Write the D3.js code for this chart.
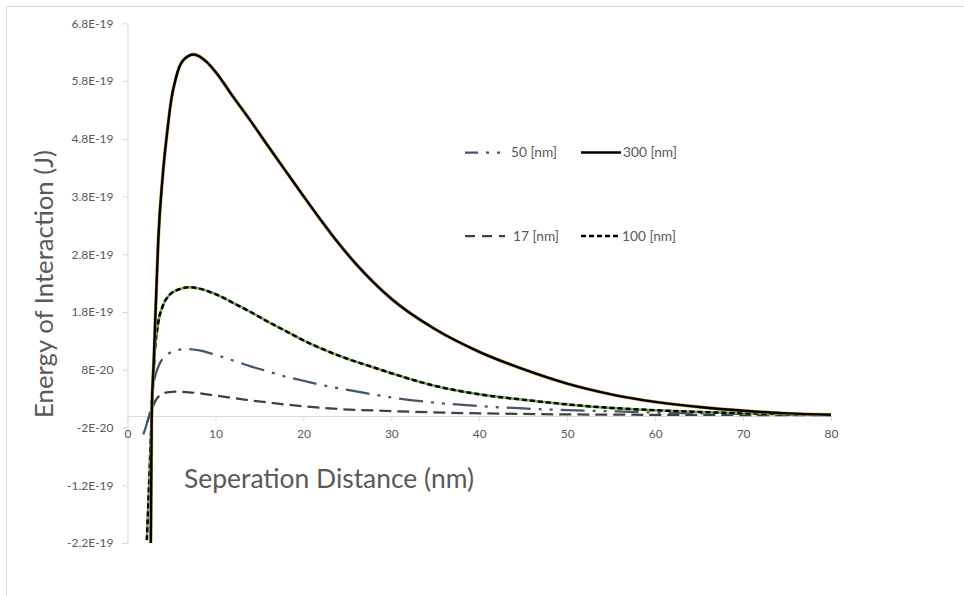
<!DOCTYPE html>
<html>
<head>
<meta charset="utf-8">
<script src="https://cdn.jsdelivr.net/npm/d3@7"></script>
<style>
  html, body { margin: 0; padding: 0; background: #fff; }
  svg { display: block; font-family: Lato, "Open Sans", sans-serif; }
</style>
</head>
<body>
<svg id="chart" width="964" height="596"></svg>
<script>
// ---- data (energies in units of 1E-19 J) ----
const xTicks = [0, 10, 20, 30, 40, 50, 60, 70, 80];
const yTicks = [-2.2, -1.2, -0.2, 0.8, 1.8, 2.8, 3.8, 4.8, 5.8, 6.8];
const yTickLabels = ["-2.2E-19", "-1.2E-19", "-2E-20", "8E-20", "1.8E-19", "2.8E-19", "3.8E-19", "4.8E-19", "5.8E-19", "6.8E-19"];

const seriesNames = ["50 [nm]", "300 [nm]", "17 [nm]", "100 [nm]"];

const dist50 = [1.8, 2.2, 2.6, 2.9, 3.5, 4.5, 5.5, 6.7, 8, 10, 12, 14, 16, 18, 20, 22, 25, 28, 30, 35, 40, 45, 50, 55, 60, 65, 70, 75, 80];
const energy50 = [-0.32, -0.13, 0.12, 0.5, 0.85, 1.06, 1.13, 1.16, 1.14, 1.06, 0.96, 0.86, 0.77, 0.68, 0.61, 0.54, 0.45, 0.37, 0.32, 0.23, 0.17, 0.13, 0.1, 0.08, 0.06, 0.045, 0.035, 0.025, 0.02];

const dist300 = [2.65, 2.75, 3, 3.25, 3.5, 4, 4.5, 5, 5.5, 6, 7, 7.5, 8, 9, 10, 12, 14, 16, 18, 20, 22, 24, 26, 28, 30, 35, 40, 45, 50, 55, 60, 65, 70, 75, 80];
const energy300 = [-2.2, 0.0, 1.0, 2.05, 3.05, 4.15, 4.9, 5.5, 5.85, 6.08, 6.24, 6.26, 6.24, 6.13, 5.96, 5.53, 5.11, 4.67, 4.24, 3.81, 3.39, 2.99, 2.63, 2.31, 2.03, 1.5, 1.11, 0.81, 0.56, 0.375, 0.245, 0.155, 0.09, 0.045, 0.02];

const dist17 = [2.2, 2.5, 2.8, 3.2, 3.7, 4.5, 5.6, 7, 9.75, 13.5, 17.3, 23, 30, 34.4, 45, 60, 80];
const energy17 = [-0.12, 0.0, 0.12, 0.27, 0.36, 0.41, 0.42, 0.41, 0.36, 0.28, 0.21, 0.13, 0.085, 0.064, 0.035, 0.02, 0.015];

const dist100 = [2.2, 2.45, 2.75, 3.1, 3.5, 4, 4.8, 6, 7, 8, 10, 12, 14, 16, 18, 20, 22, 25, 28, 30, 35, 40, 45, 50, 55, 60, 65, 70, 75, 80];
const energy100 = [-2.15, -1.2, 0.0, 1.09, 1.62, 1.9, 2.1, 2.2, 2.23, 2.21, 2.11, 1.96, 1.8, 1.63, 1.47, 1.31, 1.17, 0.99, 0.84, 0.74, 0.52, 0.375, 0.28, 0.2, 0.14, 0.1, 0.07, 0.048, 0.03, 0.017];

// ---- layout ----
const svg = d3.select("#chart");
const plotLeft = 127.5, plotRight = 831, plotTop = 23.3, plotBottom = 543;
const x = d3.scaleLinear().domain([0, 80]).range([plotLeft, plotRight]);
const y = d3.scaleLinear().domain([-2.2, 6.8]).range([plotBottom, plotTop]);
const grey = "#d9d9d9", textGrey = "#595959";

// measure font size so that tick labels match reference widths
function measureSize(str, target, base, family) {
  const t = svg.append("text").attr("font-size", base).attr("font-family", family).text(str);
  const len = t.node().getComputedTextLength();
  t.remove();
  return base * target / len;
}
const tickFont = measureSize("6.8E-19", 42, 12, "Lato");
const legendFont = measureSize("300 [nm]", 54, 13, "Lato");

// outer chart border
svg.append("rect").attr("x", 6.5).attr("y", 6.5).attr("width", 980).attr("height", 620)
  .attr("fill", "none").attr("stroke", grey).attr("stroke-width", 1);

// y axis
const yAxis = svg.append("g").attr("transform", `translate(${plotLeft},0)`)
  .call(d3.axisLeft(y).tickValues(yTicks).tickSize(5).tickSizeOuter(0).tickPadding(9)
    .tickFormat((d, i) => yTickLabels[i]));
yAxis.select(".domain").attr("stroke", grey);
yAxis.selectAll(".tick line").attr("stroke", grey);
yAxis.selectAll("text").attr("fill", textGrey).attr("font-size", tickFont).attr("font-family", "Lato");

// x axis at y = 0
const xAxis = svg.append("g").attr("transform", `translate(0,${y(0)})`)
  .call(d3.axisBottom(x).tickValues(xTicks).tickSize(5).tickSizeOuter(0).tickPadding(9));
xAxis.select(".domain").attr("stroke", grey);
xAxis.selectAll(".tick line").attr("stroke", grey);
xAxis.selectAll("text").attr("fill", textGrey).attr("font-size", tickFont).attr("font-family", "Lato");

// clip
svg.append("clipPath").attr("id", "plotclip").append("rect")
  .attr("x", plotLeft).attr("y", plotTop - 2).attr("width", plotRight - plotLeft + 4).attr("height", plotBottom - plotTop + 2);

const line = d3.line().x(d => x(d[0])).y(d => y(d[1])).curve(d3.curveMonotoneX);
const zipData = (xs, ys) => xs.map((v, i) => [v, ys[i]]);

const plot = svg.append("g").attr("clip-path", "url(#plotclip)");

function drawSeries(xs, ys, style) {
  plot.append("path").datum(zipData(xs, ys)).attr("d", line)
    .attr("fill", "none").attr("stroke", style.color).attr("stroke-width", style.width)
    .attr("stroke-dasharray", style.dash || null).attr("stroke-linejoin", "round");
}

const styles = {
  s50: { color: "#44546a", width: 2.25, dash: "24,8,3,8,3,8" },
  s300under: { color: "#c5a555", width: 3.4 },
  s300: { color: "#000000", width: 2.4 },
  s17: { color: "#404040", width: 2.25, dash: "12,6" },
  s100under: { color: "#70ad47", width: 2.5 },
  s100: { color: "#000000", width: 2.5, dash: "5,3" }
};

drawSeries(dist17, energy17, styles.s17);
drawSeries(dist50, energy50, styles.s50);
drawSeries(dist100, energy100, styles.s100under);
drawSeries(dist100, energy100, styles.s100);
drawSeries(dist300, energy300, styles.s300under);
drawSeries(dist300, energy300, styles.s300);

// legend
const legendItems = [
  { name: seriesNames[0], style: styles.s50, lx: 465, ly: 152.5, len: 38, offset: 11 },
  { name: seriesNames[1], style: styles.s300, lx: 581, ly: 152.5, len: 40 },
  { name: seriesNames[2], style: styles.s17, lx: 465, ly: 236, len: 40, dash: "10,7" },
  { name: seriesNames[3], style: styles.s100, lx: 581, ly: 236, len: 39 }
];
legendItems.forEach(it => {
  svg.append("line").attr("x1", it.lx).attr("x2", it.lx + it.len).attr("y1", it.ly).attr("y2", it.ly)
    .attr("stroke", it.style.color).attr("stroke-width", it.style.width)
    .attr("stroke-dasharray", it.dash || it.style.dash || null)
    .attr("stroke-dashoffset", it.offset || 0);
  svg.append("text").attr("x", it.lx + it.len + (it.lx < 500 ? 8 : 2)).attr("y", it.ly)
    .attr("dy", "0.35em").attr("fill", textGrey).attr("font-size", legendFont).attr("font-family", "Lato")
    .text(it.name);
});

// axis titles, fitted to measured lengths of the reference
function fit(sel, target, base) {
  const len = sel.node().getComputedTextLength();
  sel.attr("font-size", base * target / len);
}
const yTitle = svg.append("text").attr("transform", "translate(53,284) rotate(-90)")
  .attr("text-anchor", "middle").attr("fill", textGrey).attr("font-size", 24).attr("font-family", "Lato")
  .text("Energy of Interaction (J)");
fit(yTitle, 268, 24);
const xTitle = svg.append("text").attr("x", 329).attr("y", 488)
  .attr("text-anchor", "middle").attr("fill", textGrey).attr("font-size", 24).attr("font-family", "Lato")
  .text("Seperation Distance (nm)");
fit(xTitle, 290, 24);
</script>
</body>
</html>
